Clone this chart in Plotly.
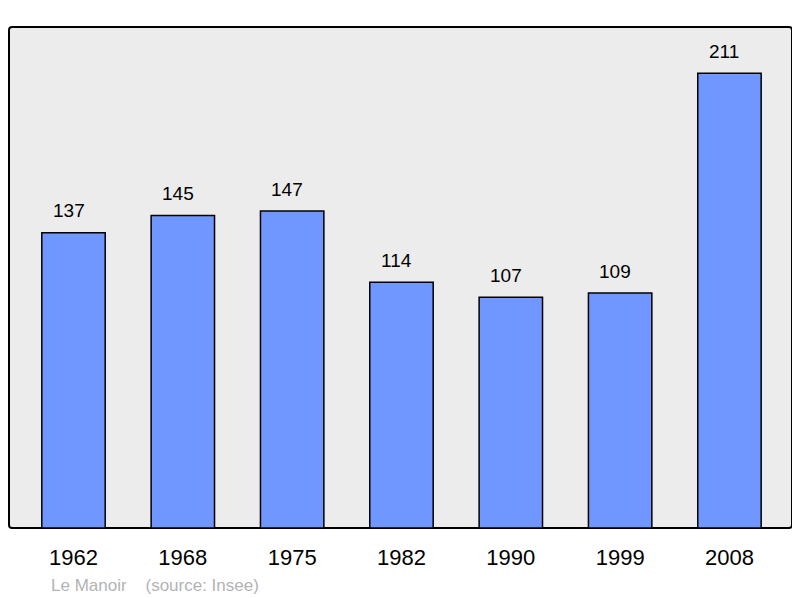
import plotly.graph_objects as go

years = ["1962", "1968", "1975", "1982", "1990", "1999", "2008"]
population = [137, 145, 147, 114, 107, 109, 211]
source_text = "Le Manoir    (source: Insee)"

positions = list(range(len(years)))
FONT = "Liberation Sans, Arial"

fig = go.Figure()
fig.add_trace(go.Bar(
    x=positions, y=population, width=0.58,
    marker=dict(color="#7096ff", line=dict(color="#000000", width=1.5)),
    hoverinfo="skip",
))

for p, v in zip(positions, population):
    fig.add_annotation(x=p, y=v, text=str(v), showarrow=False, yanchor="middle",
                       yshift=22, xshift=-5, font=dict(family=FONT, size=19, color="#000"))

fig.add_annotation(xref="paper", yref="paper", x=0.051, y=-0.114, xanchor="left", yanchor="middle",
                   text=source_text, showarrow=False,
                   font=dict(family=FONT, size=17, color="#b3b3b3"))

# rounded frame
fig.add_shape(type="path", xref="paper", yref="paper", layer="below",
              path="M 0.004 0 L 0.996 0 Q 1 0 1 0.006 L 1 0.994 Q 1 1 0.996 1 L 0.004 1 Q 0 1 0 0.994 L 0 0.006 Q 0 0 0.004 0 Z",
              fillcolor="#ececec", line=dict(color="#000000", width=2))

fig.update_layout(
    width=792, height=590,
    margin=dict(l=1, r=8, t=19, b=70),
    paper_bgcolor="#ffffff", plot_bgcolor="rgba(0,0,0,0)",
    showlegend=False,
    xaxis=dict(range=[-0.59, 6.572], tickvals=positions, ticktext=years, showgrid=False,
               zeroline=False, showline=False, ticks="outside", ticklen=10, tickcolor="rgba(0,0,0,0)",
               tickfont=dict(family=FONT, size=22, color="#000")),
    yaxis=dict(range=[0, 232.4], showgrid=False, zeroline=False, showticklabels=False, showline=False),
)

fig.write_html("out.html")
